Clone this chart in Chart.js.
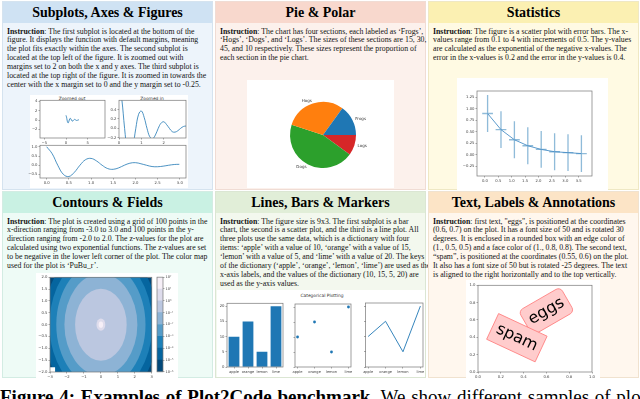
<!DOCTYPE html>
<html>
<head>
<meta charset="utf-8">
<script src="https://cdn.jsdelivr.net/npm/chart.js@4.4.1/dist/chart.umd.min.js"></script>
<style>
  html, body { margin: 0; padding: 0; background: #fff; }
  #page { position: relative; width: 640px; height: 399px; overflow: hidden; background: #fff;
          font-family: "Liberation Serif", "Times New Roman", serif; color: #111; }
  .panel { position: absolute; box-sizing: border-box; border: 1px solid; }
  .head { position: absolute; left: 0; right: 0; top: 0; height: 21px; line-height: 21px;
          text-align: center; font-weight: bold; font-size: 14px; color: #000;
          font-family: "Liberation Serif", "Times New Roman", serif; }
  .txt { position: absolute; left: 4px; top: 25.5px; font-size: 7.8px; line-height: 8.95px; white-space: nowrap; }
  .fig { position: absolute; background: #fff; }
  canvas { position: absolute; }
  .ttl { position: absolute; font-family: "DejaVu Sans", sans-serif; font-size: 4.4px; color: #333;
         white-space: nowrap; transform: translate(-50%, -50%); }
  #caption { position: absolute; left: 0; top: 387px; width: 640px; font-size: 19px; line-height: 20px;
             white-space: nowrap; color: #000; word-spacing: 1px;
             font-family: "Liberation Serif", "Times New Roman", serif; }
</style>
</head>
<body>
<div id="page">
  <div class="panel" style="left:2px;top:1px;width:211px;height:189px;background:#edf4fb;border-color:#d5e3ef">
    <div class="head" style="background:#cfe2f3">Subplots, Axes &amp; Figures</div>
    <div class="txt">
      <div><b>Instruction</b>: The first subplot is located at the bottom of the</div>
      <div>figure. It displays the function with default margins, meaning</div>
      <div>the plot fits exactly within the axes. The second subplot is</div>
      <div>located at the top left of the figure. It is zoomed out with</div>
      <div>margins set to 2 on both the x and y axes. The third subplot is</div>
      <div>located at the top right of the figure. It is zoomed in towards the</div>
      <div>center with the x margin set to 0 and the y margin set to -0.25.</div>
    </div>
  </div>
  <div class="panel" style="left:215px;top:1px;width:211px;height:189px;background:#fcf1ec;border-color:#f0dcd4">
    <div class="head" style="background:#f8d8cd">Pie &amp; Polar</div>
    <div class="txt">
      <div><b>Instruction</b>: The chart has four sections, each labeled as ‘Frogs’,</div>
      <div>‘Hogs’, ‘Dogs’, and ‘Logs’. The sizes of these sections are 15, 30,</div>
      <div>45, and 10 respectively. These sizes represent the proportion of</div>
      <div>each section in the pie chart.</div>
    </div>
  </div>
  <div class="panel" style="left:428px;top:1px;width:211px;height:189px;background:#fffae3;border-color:#efe8c4">
    <div class="head" style="background:#fbf0b2">Statistics</div>
    <div class="txt">
      <div><b>Instruction</b>: The figure is a scatter plot with error bars. The x-</div>
      <div>values range from 0.1 to 4 with increments of 0.5. The y-values</div>
      <div>are calculated as the exponential of the negative x-values. The</div>
      <div>error in the x-values is 0.2 and the error in the y-values is 0.4.</div>
    </div>
  </div>
  <div class="panel" style="left:2px;top:191px;width:211px;height:187px;background:#eefbf6;border-color:#d3ece3">
    <div class="head" style="background:#c9f1e3">Contours &amp; Fields</div>
    <div class="txt">
      <div><b>Instruction</b>: The plot is created using a grid of 100 points in the</div>
      <div>x-direction ranging from -3.0 to 3.0 and 100 points in the y-</div>
      <div>direction ranging from -2.0 to 2.0. The z-values for the plot are</div>
      <div>calculated using two exponential functions. The z-values are set</div>
      <div>to be negative in the lower left corner of the plot. The color map</div>
      <div>used for the plot is ‘PuBu_r’.</div>
    </div>
  </div>
  <div class="panel" style="left:215px;top:191px;width:211px;height:187px;background:#f3f8ee;border-color:#dbe6d3">
    <div class="head" style="background:#e1eed8">Lines, Bars &amp; Markers</div>
    <div class="txt">
      <div><b>Instruction</b>: The figure size is 9x3. The first subplot is a bar</div>
      <div>chart, the second is a scatter plot, and the third is a line plot. All</div>
      <div>three plots use the same data, which is a dictionary with four</div>
      <div>items: ‘apple’ with a value of 10, ‘orange’ with a value of 15,</div>
      <div>‘lemon’ with a value of 5, and ‘lime’ with a value of 20. The keys</div>
      <div>of the dictionary (‘apple’, ‘orange’, ‘lemon’, ‘lime’) are used as the</div>
      <div>x-axis labels, and the values of the dictionary (10, 15, 5, 20) are</div>
      <div>used as the y-axis values.</div>
    </div>
  </div>
  <div class="panel" style="left:428px;top:191px;width:211px;height:187px;background:#fff7ee;border-color:#f0e2cf">
    <div class="head" style="background:#fce4c6">Text, Labels &amp; Annotations</div>
    <div class="txt">
      <div><b>Instruction</b>: first text, "eggs", is positioned at the coordinates</div>
      <div>(0.6, 0.7) on the plot. It has a font size of 50 and is rotated 30</div>
      <div>degrees. It is enclosed in a rounded box with an edge color of</div>
      <div>(1., 0.5, 0.5) and a face color of (1., 0.8, 0.8). The second text,</div>
      <div>“spam”, is positioned at the coordinates (0.55, 0.6) on the plot.</div>
      <div>It also has a font size of 50 but is rotated -25 degrees. The text</div>
      <div>is aligned to the right horizontally and to the top vertically.</div>
    </div>
  </div>

  <div class="fig" style="left:30px;top:95px;width:158px;height:93px"></div>
  <div class="fig" style="left:247px;top:80px;width:147px;height:108px"></div>
  <div class="fig" style="left:457px;top:78px;width:151px;height:112px"></div>
  <div class="fig" style="left:36px;top:273px;width:142px;height:105px"></div>
  <div class="fig" style="left:217px;top:290px;width:208px;height:87px"></div>
  <div class="fig" style="left:466px;top:280px;width:134px;height:98px"></div>

  <div class="ttl" style="left:72px;top:97.5px">Zoomed out</div>
  <div class="ttl" style="left:152px;top:97.5px">Zoomed in</div>
  <div class="ttl" style="left:322px;top:295px">Categorical Plotting</div>

  <div id="caption"><b>Figure 4: Examples of Plot2Code benchmark.</b> We show different samples of plots with their instructions and</div>
</div>
<script>
// damped cosine used by the three margin subplots
const dampX = [0, 0.125, 0.25, 0.375, 0.5, 0.625, 0.75, 0.875, 1.0, 1.125, 1.25, 1.375, 1.5,
               1.625, 1.75, 1.875, 2.0, 2.125, 2.25, 2.375, 2.5, 2.625, 2.75, 2.875, 2.99];
const dampY = [1.0, 0.62, 0.0, -0.49, -0.61, -0.38, 0.0, 0.3, 0.37, 0.23, 0.0, -0.18, -0.22,
               -0.14, 0.0, 0.11, 0.14, 0.08, 0.0, -0.07, -0.08, -0.05, 0.0, 0.04, 0.05];

// pie
const pieLabels = ["Frogs", "Hogs", "Dogs", "Logs"];
const pieSizes = [15, 30, 45, 10];
const pieColors = ["#1f77b4", "#ff7f0e", "#2ca02c", "#d62728"];

// error bar plot
const statX = [0.1, 0.6, 1.1, 1.6, 2.1, 2.6, 3.1, 3.6];
const statY = [0.90, 0.55, 0.33, 0.20, 0.12, 0.07, 0.05, 0.03];
const statXErr = 0.2;
const statYErr = 0.4;

// contourf (log levels, PuBu_r)
const cbExponents = [-6, -5, -4, -3, -2, -1, 0, 1, 2];
const ringRadii = [3.39, 3.03, 2.63, 2.15, 1.52, 0.26, 0.13];
const bandColors = ["#03497a", "#05659f", "#1d80b8", "#559cc8", "#8db3d5", "#bbc7e0", "#dedcec", "#f6eff7"];
const maskedCorner = [-3, -2, -2.7, -1.8];

// categorical
const fruitNames = ["apple", "orange", "lemon", "lime"];
const fruitValues = [10, 15, 5, 20];

// annotations
const annTexts = ["eggs", "spam"];
const annX = [0.6, 0.55];
const annY = [0.7, 0.6];
const annRot = [30, -25];

const BLUE = "#1f77b4";
const page = document.getElementById("page");

Chart.defaults.animation = false;
Chart.defaults.responsive = false;
Chart.defaults.events = [];
Chart.defaults.font.family = "'DejaVu Sans', sans-serif";
Chart.defaults.plugins.legend.display = false;
Chart.defaults.plugins.tooltip.enabled = false;

function fmt(v, digits) {
  if (Math.abs(v) < 1e-9) v = 0;
  return Number(v).toFixed(digits).replace("-", "\u2212");
}

// rect = plot area [x0, y0, x1, y1] on the page, m = [left, top, right, bottom] room around it
function mount(rect, m) {
  const c = document.createElement("canvas");
  const w = rect[2] - rect[0] + m[0] + m[2];
  const h = rect[3] - rect[1] + m[1] + m[3];
  c.width = w;
  c.height = h;
  c.style.left = (rect[0] - m[0]) + "px";
  c.style.top = (rect[1] - m[1]) + "px";
  c.style.width = w + "px";
  c.style.height = h + "px";
  page.appendChild(c);
  return c;
}

function linAxis(pos, min, max, step, size, digits, extra = {}) {
  return {
    type: "linear",
    position: pos,
    min,
    max,
    afterFit: (s) => {
      if (pos === "left" || pos === "right") s.width = size;
      else s.height = size;
    },
    border: { display: false },
    grid: { drawOnChartArea: false, tickLength: 1.5, color: "#555", lineWidth: 0.5 },
    ticks: {
      stepSize: step,
      includeBounds: false,
      autoSkip: false,
      maxRotation: 0,
      padding: 1,
      color: "#444",
      font: { size: 3.8 },
      callback: (v) => fmt(v, digits),
    },
    ...extra,
  };
}

const frame = {
  id: "frame",
  afterDraw(chart) {
    const { ctx, chartArea: a } = chart;
    ctx.save();
    ctx.strokeStyle = "#777";
    ctx.lineWidth = 0.7;
    ctx.strokeRect(a.left, a.top, a.right - a.left, a.bottom - a.top);
    ctx.restore();
  },
};

function pad(m) {
  return { padding: { left: 0, top: m[1], right: m[2], bottom: 0 } };
}

const dampPts = dampX.map((x, i) => ({ x, y: dampY[i] }));
const dampSet = () => ({ data: dampPts, borderColor: BLUE, borderWidth: 0.8, pointRadius: 0, tension: 0.4 });

// --- Subplots, Axes & Figures ---
let m = [12, 3, 3, 8];
new Chart(mount([40, 100, 105, 138], m), {
  type: "line",
  data: { datasets: [dampSet()] },
  options: {
    layout: pad(m),
    scales: {
      x: linAxis("bottom", -5.98, 8.97, 5, 8, 0),
      y: linAxis("left", -3.82, 4.21, 2, 12, 0),
    },
  },
  plugins: [frame],
});

m = [12, 3, 3, 8];
new Chart(mount([119, 100, 186, 138], m), {
  type: "line",
  data: { datasets: [dampSet()] },
  options: {
    layout: pad(m),
    scales: {
      x: linAxis("bottom", 0, 2.99, 1, 8, 0),
      y: linAxis("left", -0.205, 0.598, 0.2, 12, 1),
    },
  },
  plugins: [frame],
});

m = [12, 3, 3, 8];
new Chart(mount([40, 145, 186, 178], m), {
  type: "line",
  data: { datasets: [dampSet()] },
  options: {
    layout: pad(m),
    scales: {
      x: linAxis("bottom", -0.15, 3.14, 0.5, 8, 1),
      y: linAxis("left", -0.69, 1.08, 0.5, 12, 1),
    },
  },
  plugins: [frame],
});

// --- Pie & Polar ---
// matplotlib goes counter-clockwise from east, Chart.js clockwise: feed the slices reversed
const pieOrder = pieLabels.map((_, i) => pieLabels.length - 1 - i);
const pieLabelPlugin = {
  id: "pieLabels",
  afterDraw(chart) {
    const ctx = chart.ctx;
    const meta = chart.getDatasetMeta(0);
    ctx.save();
    ctx.font = "4px 'DejaVu Sans'";
    ctx.fillStyle = "#333";
    ctx.textBaseline = "middle";
    meta.data.forEach((arc, i) => {
      const p = arc.getProps(["x", "y", "startAngle", "endAngle", "outerRadius"], true);
      const ang = (p.startAngle + p.endAngle) / 2;
      const r = p.outerRadius * 1.1;
      ctx.textAlign = Math.cos(ang) >= 0 ? "left" : "right";
      ctx.fillText(chart.data.labels[i], p.x + Math.cos(ang) * r, p.y + Math.sin(ang) * r);
    });
    ctx.restore();
  },
};
m = [43, 22, 38, 20];
new Chart(mount([290, 102, 356, 168], m), {
  type: "pie",
  data: {
    labels: pieOrder.map((i) => pieLabels[i]),
    datasets: [{
      data: pieOrder.map((i) => pieSizes[i]),
      backgroundColor: pieOrder.map((i) => pieColors[i]),
      borderWidth: 0,
      hoverOffset: 0,
    }],
  },
  options: {
    rotation: 90,
    layout: { padding: { left: m[0], top: m[1], right: m[2], bottom: m[3] } },
  },
  plugins: [pieLabelPlugin],
});

// --- Statistics ---
const errorBars = {
  id: "errorBars",
  beforeDatasetsDraw(chart) {
    const { ctx, scales: { x, y } } = chart;
    ctx.save();
    ctx.strokeStyle = "rgba(31,119,180,0.5)";
    ctx.lineWidth = 1.3;
    statX.forEach((v, i) => {
      const px = x.getPixelForValue(v);
      const py = y.getPixelForValue(statY[i]);
      ctx.beginPath();
      ctx.moveTo(px, y.getPixelForValue(statY[i] - statYErr));
      ctx.lineTo(px, y.getPixelForValue(statY[i] + statYErr));
      ctx.moveTo(x.getPixelForValue(v - statXErr), py);
      ctx.lineTo(x.getPixelForValue(v + statXErr), py);
      ctx.stroke();
    });
    ctx.restore();
  },
};
m = [20, 13, 16, 14];
new Chart(mount([477, 91, 592, 176], m), {
  type: "line",
  data: {
    datasets: [{
      data: statX.map((x, i) => ({ x, y: statY[i] })),
      borderColor: "#4a8fc6",
      borderWidth: 0.9,
      pointRadius: 0,
      tension: 0,
    }],
  },
  options: {
    layout: pad(m),
    scales: {
      x: linAxis("bottom", -0.295, 3.995, 0.5, 14, 1),
      y: linAxis("left", -0.457, 1.389, 0.25, 20, 2),
    },
  },
  plugins: [errorBars, frame],
});

// --- Contours & Fields ---
const contourFill = {
  id: "contourFill",
  beforeDatasetsDraw(chart) {
    const { ctx, chartArea: a, scales: { x, y } } = chart;
    ctx.save();
    ctx.beginPath();
    ctx.rect(a.left, a.top, a.right - a.left, a.bottom - a.top);
    ctx.clip();
    ctx.fillStyle = bandColors[0];
    ctx.fillRect(a.left, a.top, a.right - a.left, a.bottom - a.top);
    const cx = x.getPixelForValue(0);
    const cy = y.getPixelForValue(0);
    ringRadii.forEach((r, i) => {
      ctx.fillStyle = bandColors[i + 1];
      ctx.beginPath();
      ctx.ellipse(cx, cy, x.getPixelForValue(r) - cx, cy - y.getPixelForValue(r), 0, 0, Math.PI * 2);
      ctx.fill();
    });
    ctx.fillStyle = "#fff";
    const mx0 = x.getPixelForValue(maskedCorner[0]);
    const my0 = y.getPixelForValue(maskedCorner[1]);
    const mx1 = x.getPixelForValue(maskedCorner[2]);
    const my1 = y.getPixelForValue(maskedCorner[3]);
    ctx.fillRect(mx0, my1, mx1 - mx0, my0 - my1);
    ctx.restore();
  },
};
m = [13, 3, 2, 7];
new Chart(mount([50, 277, 152, 372], m), {
  type: "scatter",
  data: { datasets: [{ data: [] }] },
  options: {
    layout: pad(m),
    scales: {
      x: linAxis("bottom", -3, 3, 1, 7, 0),
      y: linAxis("left", -2, 2, 0.5, 13, 1),
    },
  },
  plugins: [contourFill, frame],
});

const SUP = { "-": "\u207b", "0": "\u2070", "1": "\u00b9", "2": "\u00b2", "3": "\u00b3",
              "4": "\u2074", "5": "\u2075", "6": "\u2076" };
const sup = (n) => String(n).split("").map((ch) => SUP[ch]).join("");
m = [1, 3, 14, 3];
new Chart(mount([157, 277, 163, 372], m), {
  type: "bar",
  data: {
    labels: [""],
    datasets: bandColors.map((c) => ({
      data: [1], backgroundColor: c, borderWidth: 0, barPercentage: 1, categoryPercentage: 1,
    })),
  },
  options: {
    layout: { padding: { left: m[0], top: m[1], right: 0, bottom: m[3] } },
    scales: {
      x: { display: false, stacked: true },
      y: {
        ...linAxis("right", 0, cbExponents.length - 1, 1, m[2], 0),
        stacked: true,
        ticks: {
          stepSize: 1, includeBounds: false, autoSkip: false, padding: 1, color: "#444",
          font: { size: 3.6 },
          callback: (v) => "10" + sup(cbExponents[v]),
        },
      },
    },
  },
  plugins: [frame],
});

// --- Lines, Bars & Markers ---
const catTicks = (size) => ({
  ...linAxis("bottom", -0.15, 3.15, 1, size, 0),
  ticks: {
    stepSize: 1, includeBounds: false, autoSkip: false, maxRotation: 0, padding: 1,
    color: "#444", font: { size: 3.6 },
    callback: (v) => fruitNames[v] ?? "",
  },
});
const blankY = () => ({
  ...linAxis("left", 0, 21, 5, 3, 0),
  ticks: { stepSize: 5, includeBounds: false, padding: 0, font: { size: 3.6 }, callback: () => "" },
});

m = [8, 3, 3, 8];
new Chart(mount([227, 303, 283, 367], m), {
  type: "bar",
  data: {
    labels: fruitNames,
    datasets: [{ data: fruitValues, backgroundColor: BLUE, barPercentage: 0.77, categoryPercentage: 1 }],
  },
  options: {
    layout: pad(m),
    scales: {
      x: {
        type: "category",
        offset: true,
        afterFit: (s) => { s.height = 8; },
        border: { display: false },
        grid: { offset: false, drawOnChartArea: false, tickLength: 1.5, color: "#555", lineWidth: 0.5 },
        ticks: { autoSkip: false, maxRotation: 0, padding: 1, color: "#444", font: { size: 3.6 } },
      },
      y: linAxis("left", 0, 21, 5, 8, 0),
    },
  },
  plugins: [frame],
});

m = [3, 3, 3, 8];
new Chart(mount([294, 303, 352, 367], m), {
  type: "scatter",
  data: {
    datasets: [{
      data: fruitValues.map((v, i) => ({ x: i, y: v })),
      backgroundColor: BLUE, borderColor: BLUE, pointRadius: 1.4, borderWidth: 0,
    }],
  },
  options: { layout: pad(m), scales: { x: catTicks(8), y: blankY() } },
  plugins: [frame],
});

new Chart(mount([365, 303, 423, 367], m), {
  type: "line",
  data: {
    datasets: [{
      data: fruitValues.map((v, i) => ({ x: i, y: v })),
      borderColor: BLUE, borderWidth: 0.9, pointRadius: 0, tension: 0,
    }],
  },
  options: { layout: pad(m), scales: { x: catTicks(8), y: blankY() } },
  plugins: [frame],
});

// --- Text, Labels & Annotations ---
const annStyle = [
  { ha: "center", va: "center", box: "round" },
  { ha: "right", va: "top", box: "square" },
];
const textBoxes = {
  id: "textBoxes",
  afterDraw(chart) {
    const { ctx, scales: { x, y } } = chart;
    const fs = 16;
    ctx.save();
    ctx.font = fs + "px 'DejaVu Sans'";
    annTexts.forEach((t, i) => {
      const st = annStyle[i];
      const w = ctx.measureText(t).width;
      const h = fs * 1.17;
      const p = fs * 0.3;
      const th = annRot[i] * Math.PI / 180;
      const ex = (w * Math.abs(Math.cos(th)) + h * Math.abs(Math.sin(th))) / 2;
      const ey = (w * Math.abs(Math.sin(th)) + h * Math.abs(Math.cos(th))) / 2;
      let cx = x.getPixelForValue(annX[i]);
      let cy = y.getPixelForValue(annY[i]);
      if (st.ha === "right") cx -= ex;
      if (st.ha === "left") cx += ex;
      if (st.va === "top") cy += ey;
      if (st.va === "bottom") cy -= ey;
      ctx.save();
      ctx.translate(cx, cy);
      ctx.rotate(-th);
      ctx.beginPath();
      if (st.box === "round") ctx.roundRect(-w / 2 - p, -h / 2 - p, w + 2 * p, h + 2 * p, p);
      else ctx.rect(-w / 2 - p, -h / 2 - p, w + 2 * p, h + 2 * p);
      ctx.fillStyle = "#ffcccc";
      ctx.fill();
      ctx.strokeStyle = "#ff8080";
      ctx.lineWidth = 0.8;
      ctx.stroke();
      ctx.fillStyle = "#000";
      ctx.textAlign = "center";
      ctx.textBaseline = "middle";
      ctx.fillText(t, 0, 0);
      ctx.restore();
    });
    ctx.restore();
  },
};
m = [10, 3, 6, 7];
new Chart(mount([478, 285, 592, 372], m), {
  type: "scatter",
  data: { datasets: [{ data: [] }] },
  options: {
    layout: pad(m),
    scales: {
      x: linAxis("bottom", 0, 1, 0.2, 7, 1),
      y: linAxis("left", 0, 1, 0.2, 10, 1),
    },
  },
  plugins: [frame, textBoxes],
});
</script>
</body>
</html>
